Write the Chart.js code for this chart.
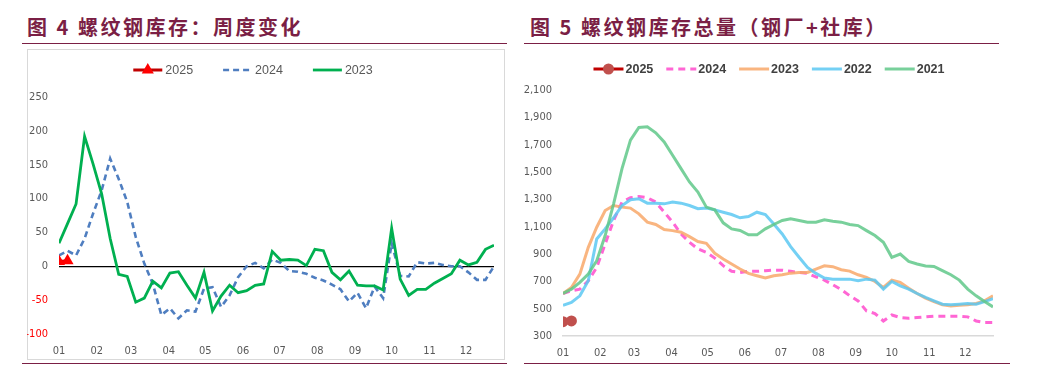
<!DOCTYPE html>
<html lang="zh-CN">
<head>
<meta charset="UTF-8">
<title>螺纹钢库存</title>
<script src="https://cdn.jsdelivr.net/npm/chart.js@4.4.1/dist/chart.umd.min.js"></script>
<style>
    html, body {
        margin: 0;
        padding: 0;
        background: #fff;
    }
    body {
        position: relative;
        width: 1054px;
        height: 365px;
        overflow: hidden;
    }
    .title {
        position: absolute;
        top: 17px;
        line-height: 20px;
        font-family: "Noto Sans CJK SC", sans-serif;
        font-weight: 700;
        font-size: 20px;
        letter-spacing: 2.5px;
        color: #7B1F45;
        white-space: nowrap;
    }
    .rule {
        position: absolute;
        height: 0;
        border-top: 1.5px solid #7B1F45;
    }
    .frame {
        position: absolute;
        box-sizing: border-box;
        border: 1px solid #D9D9D9;
    }
    canvas {
        position: absolute;
    }
</style>
</head>
<body>
    <div class="title" style="left:27px;">图 4 螺纹钢库存：周度变化</div>
    <div class="rule" style="left:22px; width:485px; top:43px;"></div>
    <div class="frame" style="left:27px; top:49px; width:478px; height:311px;"></div>
    <canvas id="weeklyChart" width="478" height="311" style="left:27px; top:49px;"></canvas>
    <div class="rule" style="left:22px; width:485px; top:363px;"></div>

    <div class="title" style="left:530px;">图 5 螺纹钢库存总量（钢厂+社库）</div>
    <div class="rule" style="left:524px; width:475px; top:43px;"></div>
    <canvas id="stockChart" width="490" height="313" style="left:520px; top:49px;"></canvas>
    <div class="rule" style="left:524px; width:486px; top:363px;"></div>

<script>
// month labels and where each month starts, in weeks from 1 Jan
const monthLabels = ['01', '02', '03', '04', '05', '06', '07', '08', '09', '10', '11', '12'];
const monthStartWeek = [0, 4.43, 8.43, 12.86, 17.14, 21.57, 25.86, 30.29, 34.71, 39, 43.43, 47.71];

// 图4 weekly change
const weekly2025 = [7, 8];
const weekly2024 = [16, 23, 16, 41, 78, 112, 159, 129, 95, 43, 4, -26, -72, -62, -77, -65, -67, -33, -31, -60,
    -43, -16, 0, 5, -3, 10, 5, -7, -8, -11, -17, -21, -27, -34, -52, -39, -62, -30, -47, 34,
    -14, -15, 6, 4, 5, 2, 0, 0, -9, -20, -20, 0];
const weekly2023 = [34, 63, 92, 192, 151, 107, 41, -12, -15, -53, -47, -22, -32, -10, -8, -28, -47, -9, -66, -44,
    -28, -39, -36, -28, -26, 22, 9, 10, 9, 1, 25, 23, -9, -20, -7, -28, -29, -29, -35, 56,
    -19, -43, -34, -34, -25, -18, -11, 9, 2, 6, 25, 31];
const weeklyTicks = [-100, -50, 0, 50, 100, 150, 200, 250];

// 图5 total stock (mills + social)
const stock2025 = [405, 410];
const stock2024 = [611, 631, 643, 704, 802, 973, 1145, 1280, 1312, 1321, 1312, 1280, 1206, 1133, 1047, 986, 937, 912, 870, 815,
    773, 765, 773, 773, 778, 782, 782, 773, 765, 758, 733, 709, 675, 640, 595, 557, 484, 464, 410, 454,
    435, 430, 435, 440, 445, 445, 445, 445, 440, 410, 398, 398];
const stock2023 = [611, 655, 753, 949, 1096, 1218, 1255, 1243, 1236, 1194, 1133, 1116, 1079, 1071, 1059, 1027, 991, 978, 905, 863,
    827, 790, 758, 741, 724, 741, 748, 760, 765, 765, 790, 814, 807, 785, 775, 748, 729, 699, 655, 709,
    692, 650, 611, 577, 552, 528, 520, 525, 528, 538, 557, 594];
const stock2022 = [525, 545, 594, 704, 1010, 1084, 1165, 1255, 1297, 1304, 1272, 1272, 1267, 1280, 1272, 1255, 1231, 1236, 1223, 1206,
    1189, 1165, 1174, 1206, 1189, 1120, 1047, 954, 876, 802, 758, 724, 716, 716, 716, 704, 716, 709, 643, 699,
    667, 643, 611, 582, 557, 533, 528, 533, 538, 533, 552, 574];
const stock2021 = [611, 643, 692, 753, 851, 1035, 1267, 1525, 1733, 1826, 1831, 1787, 1720, 1623, 1525, 1427, 1353, 1243, 1223, 1128,
    1084, 1072, 1040, 1040, 1084, 1116, 1145, 1157, 1145, 1133, 1133, 1150, 1140, 1133, 1116, 1108, 1071, 1035, 986, 876,
    900, 846, 827, 812, 809, 778, 748, 709, 643, 594, 552, 513];
const stockTicks = [300, 500, 700, 900, 1100, 1300, 1500, 1700, 1900, 2100];

const tickFont = "'Liberation Sans Narrow', 'DejaVu Sans Condensed', 'Liberation Sans', sans-serif";
const legendFont = "'Liberation Sans', Arial, sans-serif";

function toPoints(values) {
    return values.map((v, i) => ({ x: i, y: v }));
}

// legend drawn as a row of line samples, centred on opts.centerX
const lineLegend = {
    id: 'lineLegend',
    afterDraw(chart, args, opts) {
        const ctx = chart.ctx;
        const sets = chart.data.datasets;
        ctx.save();
        ctx.font = opts.font;
        const widths = sets.map(ds => opts.lineLen + opts.textGap + ctx.measureText(ds.label).width);
        const total = widths.reduce((a, b) => a + b, 0) + opts.itemGap * (sets.length - 1);
        let x = opts.centerX - total / 2;
        const y = opts.y;
        sets.forEach((ds, i) => {
            ctx.strokeStyle = ds.legendColor || ds.borderColor;
            ctx.lineWidth = ds.borderWidth;
            ctx.setLineDash(ds.borderDash || []);
            ctx.beginPath();
            ctx.moveTo(x, y);
            ctx.lineTo(x + opts.lineLen, y);
            ctx.stroke();
            ctx.setLineDash([]);
            if (ds.pointRadius > 0) {
                ctx.fillStyle = ds.pointBackgroundColor;
                ctx.strokeStyle = ds.pointBorderColor;
                Chart.helpers.drawPoint(ctx, { pointStyle: ds.pointStyle, radius: ds.pointRadius, borderWidth: 1, rotation: 0 },
                    x + opts.lineLen / 2, y);
            }
            ctx.fillStyle = opts.color;
            ctx.textBaseline = 'middle';
            ctx.textAlign = 'left';
            ctx.fillText(ds.label, x + opts.lineLen + opts.textGap, y + 1);
            x += widths[i] + opts.itemGap;
        });
        ctx.restore();
    }
};

function monthAxis(showBorder) {
    return {
        type: 'linear',
        min: 0,
        max: 51,
        afterBuildTicks: axis => { axis.ticks = monthStartWeek.map(v => ({ value: v })); },
        ticks: {
            autoSkip: false,
            maxRotation: 0,
            padding: 11,
            color: '#595959',
            font: { family: tickFont, size: 11 },
            callback: (value, index) => monthLabels[index]
        },
        grid: { display: false, drawTicks: false },
        border: showBorder ? { display: true, color: '#D9D9D9', width: 1.5 } : { display: false },
        afterFit: axis => { axis.height = 26; }
    };
}

// 图4
new Chart(document.getElementById('weeklyChart'), {
    type: 'line',
    data: {
        datasets: [
            {
                label: '2025', data: toPoints(weekly2025), order: 1,
                borderColor: '#E00000', legendColor: '#C00000', borderWidth: 3,
                pointStyle: 'triangle', pointRadius: 4,
                pointBackgroundColor: '#FF0000', pointBorderColor: '#FF0000'
            },
            {
                label: '2024', data: toPoints(weekly2024), order: 3,
                borderColor: '#4F7EC0', borderWidth: 2.6, borderDash: [6, 4], pointRadius: 0
            },
            {
                label: '2023', data: toPoints(weekly2023), order: 2,
                borderColor: '#00B050', borderWidth: 2.8, pointRadius: 0
            }
        ]
    },
    options: {
        responsive: false,
        animation: false,
        layout: { padding: { left: 0, right: 11, top: 48, bottom: 0 } },
        elements: { line: { tension: 0, borderCapStyle: 'butt' } },
        scales: {
            x: monthAxis(false),
            y: {
                min: -100,
                max: 250,
                afterBuildTicks: axis => { axis.ticks = weeklyTicks.map(v => ({ value: v })); },
                ticks: {
                    padding: 11,
                    font: { family: tickFont, size: 11 },
                    color: ctx => ctx.tick.value < 0 ? '#FF0000' : '#595959'
                },
                grid: {
                    drawTicks: false,
                    lineWidth: 1.3,
                    color: ctx => ctx.tick.value === 0 ? '#000000' : 'rgba(0,0,0,0)'
                },
                border: { display: false },
                afterFit: axis => { axis.width = 32; }
            }
        },
        plugins: {
            legend: { display: false },
            tooltip: { enabled: false },
            lineLegend: {
                centerX: 226, y: 21, lineLen: 29, textGap: 3, itemGap: 30,
                font: "12.5px " + legendFont, color: '#595959'
            }
        }
    },
    plugins: [lineLegend]
});

// 图5
new Chart(document.getElementById('stockChart'), {
    type: 'line',
    data: {
        datasets: [
            {
                label: '2025', data: toPoints(stock2025), order: 0,
                borderColor: '#C00000', borderWidth: 3,
                pointStyle: 'circle', pointRadius: 4,
                pointBackgroundColor: '#C0504D', pointBorderColor: '#C0504D'
            },
            {
                label: '2024', data: toPoints(stock2024), order: 4,
                borderColor: '#FF66D4', borderWidth: 3, borderDash: [7, 5], pointRadius: 0
            },
            {
                label: '2023', data: toPoints(stock2023), order: 3,
                borderColor: 'rgba(248, 168, 106, 0.85)', borderWidth: 3, pointRadius: 0
            },
            {
                label: '2022', data: toPoints(stock2022), order: 2,
                borderColor: 'rgba(92, 200, 242, 0.85)', borderWidth: 3, pointRadius: 0
            },
            {
                label: '2021', data: toPoints(stock2021), order: 1,
                borderColor: 'rgba(96, 200, 138, 0.85)', borderWidth: 3, pointRadius: 0
            }
        ]
    },
    options: {
        responsive: false,
        animation: false,
        layout: { padding: { left: 0, right: 17, top: 41, bottom: 0 } },
        elements: { line: { tension: 0, borderCapStyle: 'butt' } },
        scales: {
            x: monthAxis(true),
            y: {
                min: 300,
                max: 2100,
                afterBuildTicks: axis => { axis.ticks = stockTicks.map(v => ({ value: v })); },
                ticks: {
                    padding: 11,
                    font: { family: tickFont, size: 11 },
                    color: '#595959',
                    callback: value => value.toLocaleString('en-US')
                },
                grid: { display: false, drawTicks: false },
                border: { display: false },
                afterFit: axis => { axis.width = 43; }
            }
        },
        plugins: {
            legend: { display: false },
            tooltip: { enabled: false },
            lineLegend: {
                centerX: 249, y: 20, lineLen: 30, textGap: 2, itemGap: 13,
                font: "bold 12.5px " + legendFont, color: '#404040'
            }
        }
    },
    plugins: [lineLegend]
});
</script>
</body>
</html>
